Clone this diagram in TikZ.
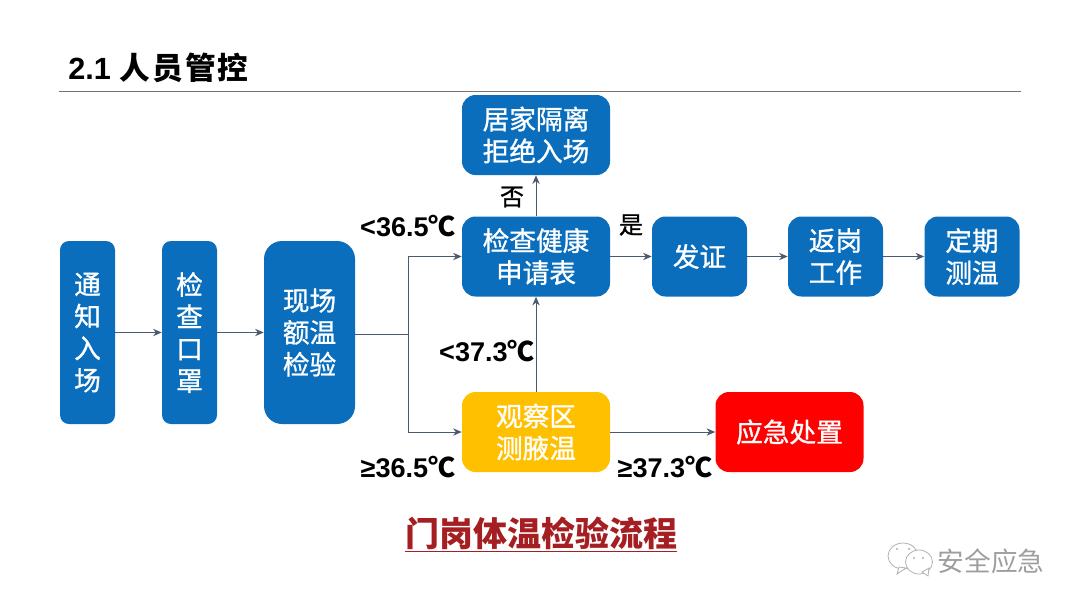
\documentclass[tikz,border=0pt]{standalone}
\usepackage{fontspec}
\setmainfont{Liberation Sans}
\newfontfamily\cjk{Noto Sans CJK SC}
\newfontfamily\cjkm[FakeBold=1]{Noto Sans CJK SC}
\newfontfamily\cjktitle[LetterSpace=7]{Noto Sans CJK SC}
\usetikzlibrary{arrows.meta}
\definecolor{boxblue}{HTML}{0A6EBD}
\definecolor{boxamber}{HTML}{FFC000}
\definecolor{linecol}{HTML}{4A5A70}
\definecolor{titlered}{HTML}{A51E22}
\tikzset{
  flowbox/.style={rounded corners=13.5*0.75pt,inner sep=0pt,align=center,text=white,
    font=\cjkm\fontsize{20}{24}\selectfont,fill=boxblue},
  narrowbox/.style={flowbox,minimum width=55*0.75pt,minimum height=183*0.75pt,rounded corners=9*0.75pt},
  widebox/.style={flowbox,minimum width=148*0.75pt,minimum height=80*0.75pt},
  midbox/.style={flowbox,minimum width=95*0.75pt,minimum height=80*0.75pt},
  flowline/.style={draw=linecol,line width=0.75pt},
  flowarrow/.style={flowline,-{Stealth[length=6.5pt,width=5.5pt]}},
  templabel/.style={font=\bfseries\fontsize{20.3}{22}\selectfont,inner sep=0pt,text=black},
  yesno/.style={font=\cjkm\fontsize{18}{20}\selectfont,inner sep=0pt,text=black},
  wmline/.style={draw=black!30,line width=0.6pt,fill=white},
}
\begin{document}
\begin{tikzpicture}[x=0.75pt,y=-0.75pt]
\useasboundingbox (0,0) rectangle (1080,608);
% title
\node[anchor=west,inner sep=0pt,font=\bfseries\fontsize{23}{24}\selectfont] (title) at (68,68) {2.1 {\cjktitle 人员管控}};
\coordinate (ruleL) at (59,91.5);
\coordinate (ruleR) at (1021,91.5);
\draw[draw=black!55,line width=0.75pt] (ruleL) -- (ruleR);
% boxes
\node[narrowbox] (notify) at (87.5,332.5) {通\\知\\入\\场};
\node[narrowbox] (mask) at (189.5,332.5) {检\\查\\口\\罩};
\node[flowbox,minimum width=91*0.75pt,minimum height=183*0.75pt,rounded corners=18*0.75pt] (forehead) at (309.5,332.5) {现场\\额温\\检验};
\node[widebox] (home) at (536,135) {居家隔离\\拒绝入场};
\node[widebox] (form) at (536,256.5) {检查健康\\申请表};
\node[midbox] (cert) at (699.5,256.5) {发证};
\node[midbox] (back) at (835.5,256.5) {返岗\\工作};
\node[midbox] (periodic) at (972,256.5) {定期\\测温};
\node[widebox,fill=boxamber] (observe) at (536,432) {观察区\\测腋温};
\node[widebox,fill=red] (emergency) at (789.5,432) {应急处置};
% connectors
\coordinate (junction) at (408,334);
\draw[flowarrow] (notify) -- (mask);
\draw[flowarrow] (mask) -- (forehead);
\draw[flowline] (forehead.east |- junction) -- (junction);
\draw[flowarrow] (junction) |- (form.west);
\draw[flowarrow] (junction) |- (observe.west);
\draw[flowarrow] (form) -- (home);
\draw[flowarrow] (observe) -- (form);
\draw[flowarrow] (form) -- (cert);
\draw[flowarrow] (cert) -- (back);
\draw[flowarrow] (back) -- (periodic);
\draw[flowarrow] (observe) -- (emergency);
% labels
\node[templabel] (l1) at (408,226) {<36.5{\cjk ℃}};
\node[templabel] (l2) at (487,351) {<37.3{\cjk ℃}};
\node[templabel] (l3) at (408,467) {≥36.5{\cjk ℃}};
\node[templabel] (l4) at (665,467) {≥37.3{\cjk ℃}};
\node[yesno] (no) at (512,197) {否};
\node[yesno] (yes) at (631,225) {是};
% caption
\node[inner xsep=0pt,inner ysep=1.5pt,text=titlered,font=\cjk\bfseries\fontsize{25.5}{28}\selectfont] (caption) at (541,533) {门岗体温检验流程};
\draw[titlered,line width=1.1pt] (caption.south west) -- (caption.south east);
% watermark
\draw[wmline] (903,556) ellipse [x radius=15,y radius=13];
\draw[wmline] (897,574) -- (899,567) -- (906,568) -- cycle;
\draw[wmline] (919,562) ellipse [x radius=13.5,y radius=12];
\draw[wmline] (928,576) -- (922,572) -- (929,568) -- cycle;
\fill[black!30] (897,549) circle (1.2) (909,549) circle (1.2) (914,558) circle (1.1) (923,558) circle (1.1);
\node[inner sep=0pt,text=black!38,font=\cjk\fontsize{20}{24}\selectfont] (wm) at (991,561) {安全应急};
\end{tikzpicture}
\end{document}
